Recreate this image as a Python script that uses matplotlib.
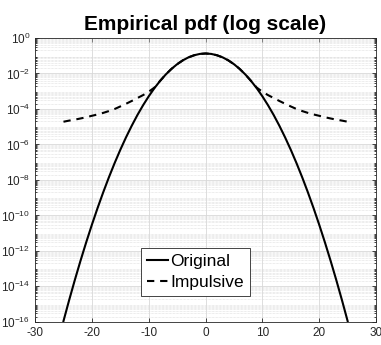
import matplotlib
matplotlib.use("Agg")
import matplotlib.pyplot as plt
import numpy as np
from matplotlib.ticker import LogLocator, NullFormatter, FixedLocator

x = list(range(-25, 26))

# Original pdf, x = 0..25, symmetric
orig_half = [1.33e-1, 1.26e-1, 1.06e-1, 8.07e-2, 5.47e-2, 3.32e-2, 1.80e-2, 8.75e-3,
             3.80e-3, 1.48e-3, 5.14e-4, 1.60e-4, 4.47e-5, 1.11e-5, 2.48e-6, 4.97e-7,
             8.87e-8, 1.42e-8, 2.03e-9, 2.60e-10, 2.98e-11, 3.05e-12, 2.80e-13,
             2.30e-14, 1.69e-15, 1.11e-16]
# Impulsive pdf, x = 0..25, symmetric
imp_half = [1.33e-1, 1.26e-1, 1.06e-1, 8.07e-2, 5.47e-2, 3.32e-2, 1.80e-2, 8.75e-3,
            3.80e-3, 1.60e-3, 9.3e-4, 6.0e-4, 4.1e-4, 2.8e-4, 1.95e-4, 1.38e-4,
            9.9e-5, 7.6e-5, 6.0e-5, 4.9e-5, 4.1e-5, 3.4e-5, 2.9e-5, 2.5e-5,
            2.2e-5, 1.9e-5]

original = orig_half[:0:-1] + orig_half
impulsive = imp_half[:0:-1] + imp_half

xticks = [-30, -20, -10, 0, 10, 20, 30]
yticks = [10.0**k for k in range(-16, 1, 2)]

plt.rcParams['font.family'] = ['Liberation Sans', 'DejaVu Sans']

fig = plt.figure(figsize=(3.81, 3.45), dpi=100)
ax = fig.add_axes([0.092, 0.067, 0.895, 0.823])

ax.semilogy(x, original, color='black', lw=1.5, label='Original')
ax.semilogy(x, impulsive, color='black', lw=1.5, ls=(0, (3.5, 2.8)), label='Impulsive')

ax.set_xlim(-30, 30)
ax.set_ylim(1e-16, 1e0)
ax.set_xticks(xticks)
ax.set_xticklabels([str(t) for t in xticks])
ax.yaxis.set_major_locator(FixedLocator(yticks))
ax.yaxis.set_minor_locator(LogLocator(base=10, subs=np.arange(2, 10), numticks=100))
ax.yaxis.set_minor_formatter(NullFormatter())

ax.grid(True, which='major', color='#d8d8d8', lw=0.6)
ax.grid(True, which='minor', axis='y', color='#dadada', lw=0.5, ls=(0, (1, 1)))
ax.set_axisbelow(True)

ax.tick_params(which='both', direction='in', top=True, right=True,
               labelsize=8.5, colors='#262626', length=3, width=0.6)
ax.tick_params(which='minor', length=1.5)
for s in ax.spines.values():
    s.set_color('#262626')
    s.set_linewidth(0.6)

ax.set_title('Empirical pdf (log scale)', fontsize=15, fontweight='bold', pad=6)

leg = ax.legend(loc='lower center', bbox_to_anchor=(0.47, 0.08), fontsize=12.5,
                handlelength=1.25, handletextpad=0.1, borderpad=0.35,
                labelspacing=0.3, fancybox=False, framealpha=1,
                edgecolor='#262626', borderaxespad=0.2)
leg.get_frame().set_linewidth(0.6)

fig.savefig('out.png', dpi=100)
